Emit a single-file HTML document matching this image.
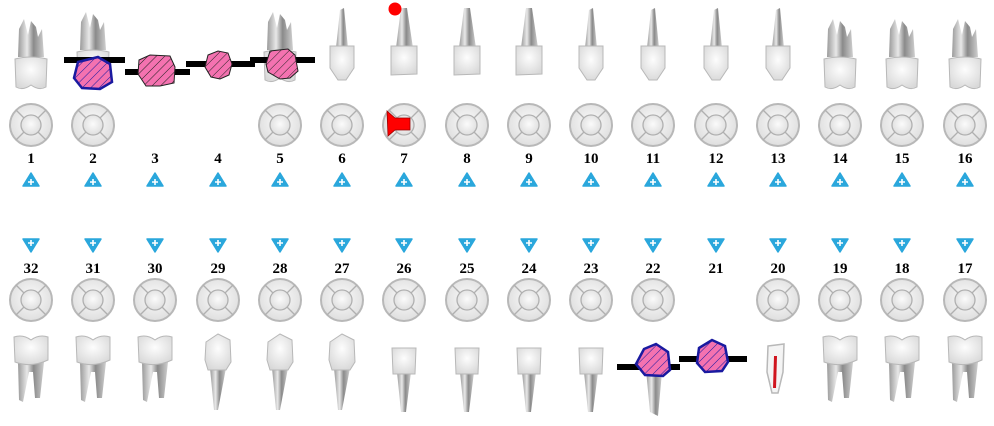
<!DOCTYPE html>
<html><head><meta charset="utf-8"><style>
html,body{margin:0;padding:0;background:#fff;width:994px;height:426px;overflow:hidden}
text{font-family:"Liberation Serif",serif;font-weight:bold;font-size:15px;text-anchor:middle}
</style></head><body>
<svg width="994" height="426" viewBox="0 0 994 426" xmlns="http://www.w3.org/2000/svg">
<defs>
<radialGradient id="cg" cx="50%" cy="45%" r="60%"><stop offset="0" stop-color="#fbfbfb"/><stop offset="1" stop-color="#dcdcdc"/></radialGradient>
<linearGradient id="rg" x1="0" x2="1"><stop offset="0" stop-color="#9a9a9a"/><stop offset=".35" stop-color="#e8e8e8"/><stop offset=".6" stop-color="#8a8a8a"/><stop offset="1" stop-color="#cfcfcf"/></linearGradient>
<radialGradient id="kg" cx="50%" cy="40%" r="65%"><stop offset="0" stop-color="#fdfdfd"/><stop offset="1" stop-color="#d8d8d8"/></radialGradient>
<pattern id="hatch" width="6" height="6" patternUnits="userSpaceOnUse" patternTransform="rotate(45)"><rect width="6" height="6" fill="#f472b0"/><line x1="0" y1="0" x2="0" y2="6" stroke="#222" stroke-width="1"/></pattern>
<pattern id="hatchb" width="6" height="6" patternUnits="userSpaceOnUse" patternTransform="rotate(45)"><rect width="6" height="6" fill="#f472b0"/><line x1="0" y1="0" x2="0" y2="6" stroke="#1a1aa0" stroke-width="1"/></pattern>
<g id="circ"><circle r="21" fill="url(#cg)" stroke="#b8b8b8" stroke-width="2"/><circle r="10" fill="url(#cg)" stroke="#b0b0b0" stroke-width="1.3"/><path d="M7 7L15 15M-7 7L-15 15M7 -7L15 -15M-7 -7L-15 -15" stroke="#b0b0b0" stroke-width="1.3"/></g>
<g id="um"><path d="M-13 57 L-12 29 L-7 19 L-3 35 L0 21 L5 27 L7 37 L11 29 L13 57Z" fill="url(#rg)"/><path d="M-16 59 Q0 55 16 59 L15 87 Q8 91 0 85 Q-8 91 -15 87Z" fill="url(#kg)" stroke="#b8b8b8"/></g>
<g id="ui"><path d="M-6 48 L-2 10 L2 8 L6 48Z" fill="url(#rg)"/><path d="M-12 46 L12 46 L12 68 L4 80 L-4 80 L-12 68Z" fill="url(#kg)" stroke="#b8b8b8"/></g>
<g id="uc"><path d="M-8 48 L-3 8 L3 8 L9 48Z" fill="url(#rg)"/><path d="M-13 46 L13 46 L13 74 L-13 75Z" fill="url(#kg)" stroke="#b8b8b8"/></g>
<g id="lm"><path d="M-13 362 L-12 400 L-8 402 L-2 372 L2 372 L4 398 L9 398 L13 362Z" fill="url(#rg)"/><path d="M-17 337 Q-8 334 0 340 Q8 334 17 337 L17 360 Q0 368 -16 362Z" fill="url(#kg)" stroke="#b8b8b8"/></g>
<g id="lp"><path d="M-8 368 L-4 410 L0 410 L8 368Z" fill="url(#rg)"/><path d="M-12 342 L0 334 L12 340 L13 362 L8 370 L-10 370 L-13 360Z" fill="url(#kg)" stroke="#b8b8b8"/></g>
<g id="li"><path d="M-7 372 L-3 412 L2 412 L7 372Z" fill="url(#rg)"/><path d="M-12 348 L12 348 L11 374 L-11 374Z" fill="url(#kg)" stroke="#b8b8b8"/></g>
<g id="up"><path d="M-8 6 L0 -7 L8 6Z" fill="#2aa7dc" stroke="#2aa7dc" stroke-linejoin="round" stroke-width="1.5"/><path d="M0 -1v6M-3 2h6" stroke="#fff" stroke-width="1.6"/></g>
<g id="dn"><path d="M-8 -6 L8 -6 L0 7Z" fill="#2aa7dc" stroke="#2aa7dc" stroke-linejoin="round" stroke-width="1.5"/><path d="M0 -5v6M-3 -2h6" stroke="#fff" stroke-width="1.6"/></g>
</defs>
<use href="#um" x="31"/><use href="#um" x="93" y="-7"/><use href="#um" x="280" y="-7"/>
<use href="#ui" x="342"/><use href="#uc" x="404"/><use href="#uc" x="467"/><use href="#uc" x="529"/><use href="#ui" x="591"/><use href="#ui" x="653"/><use href="#ui" x="716"/><use href="#ui" x="778"/>
<use href="#um" x="840"/><use href="#um" x="902"/><use href="#um" x="965"/>
<circle cx="395" cy="9" r="6.5" fill="#f00"/>
<rect x="64" y="57" width="61" height="6" fill="#000"/>
<path d="M78 62 L98 57 L110 64 L112 82 L100 89 L82 88 L74 78Z" fill="url(#hatchb)" stroke="#1a1aa0" stroke-width="2.5"/>
<rect x="125" y="69" width="14" height="6" fill="#000"/><rect x="174" y="69" width="16" height="6" fill="#000"/>
<path d="M139 60 L150 55 L170 56 L175 67 L174 83 L160 86 L146 86 L138 74Z" fill="url(#hatch)" stroke="#222"/>
<rect x="186" y="61" width="20" height="6" fill="#000"/><rect x="231" y="61" width="24" height="6" fill="#000"/>
<path d="M208 55 L218 51 L228 53 L232 64 L229 75 L220 79 L211 77 L205 67Z" fill="url(#hatch)" stroke="#222"/>
<rect x="250" y="57" width="20" height="6" fill="#000"/><rect x="296" y="57" width="19" height="6" fill="#000"/>
<path d="M270 51 L288 49 L295 55 L298 71 L290 78 L280 79 L268 72 L266 64Z" fill="url(#hatch)" stroke="#222"/>
<use href="#circ" x="31" y="125"/><use href="#circ" x="93" y="125"/><use href="#circ" x="280" y="125"/><use href="#circ" x="342" y="125"/><use href="#circ" x="404" y="125"/><use href="#circ" x="467" y="125"/><use href="#circ" x="529" y="125"/><use href="#circ" x="591" y="125"/><use href="#circ" x="653" y="125"/><use href="#circ" x="716" y="125"/><use href="#circ" x="778" y="125"/><use href="#circ" x="840" y="125"/><use href="#circ" x="902" y="125"/><use href="#circ" x="965" y="125"/>
<path d="M387 111 L388 136 L395 130 L410 130 L410 118 L395 118Z" fill="#f00" stroke="#900" stroke-width=".8"/>
<g>
<text x="31" y="163">1</text><text x="93" y="163">2</text><text x="155" y="163">3</text><text x="218" y="163">4</text><text x="280" y="163">5</text><text x="342" y="163">6</text><text x="404" y="163">7</text><text x="467" y="163">8</text><text x="529" y="163">9</text><text x="591" y="163">10</text><text x="653" y="163">11</text><text x="716" y="163">12</text><text x="778" y="163">13</text><text x="840" y="163">14</text><text x="902" y="163">15</text><text x="965" y="163">16</text>
</g>
<use href="#up" x="31" y="180"/><use href="#up" x="93" y="180"/><use href="#up" x="155" y="180"/><use href="#up" x="218" y="180"/><use href="#up" x="280" y="180"/><use href="#up" x="342" y="180"/><use href="#up" x="404" y="180"/><use href="#up" x="467" y="180"/><use href="#up" x="529" y="180"/><use href="#up" x="591" y="180"/><use href="#up" x="653" y="180"/><use href="#up" x="716" y="180"/><use href="#up" x="778" y="180"/><use href="#up" x="840" y="180"/><use href="#up" x="902" y="180"/><use href="#up" x="965" y="180"/>
<use href="#dn" x="31" y="245"/><use href="#dn" x="93" y="245"/><use href="#dn" x="155" y="245"/><use href="#dn" x="218" y="245"/><use href="#dn" x="280" y="245"/><use href="#dn" x="342" y="245"/><use href="#dn" x="404" y="245"/><use href="#dn" x="467" y="245"/><use href="#dn" x="529" y="245"/><use href="#dn" x="591" y="245"/><use href="#dn" x="653" y="245"/><use href="#dn" x="716" y="245"/><use href="#dn" x="778" y="245"/><use href="#dn" x="840" y="245"/><use href="#dn" x="902" y="245"/><use href="#dn" x="965" y="245"/>
<g>
<text x="31" y="273">32</text><text x="93" y="273">31</text><text x="155" y="273">30</text><text x="218" y="273">29</text><text x="280" y="273">28</text><text x="342" y="273">27</text><text x="404" y="273">26</text><text x="467" y="273">25</text><text x="529" y="273">24</text><text x="591" y="273">23</text><text x="653" y="273">22</text><text x="716" y="273">21</text><text x="778" y="273">20</text><text x="840" y="273">19</text><text x="902" y="273">18</text><text x="965" y="273">17</text>
</g>
<use href="#circ" x="31" y="300"/><use href="#circ" x="93" y="300"/><use href="#circ" x="155" y="300"/><use href="#circ" x="218" y="300"/><use href="#circ" x="280" y="300"/><use href="#circ" x="342" y="300"/><use href="#circ" x="404" y="300"/><use href="#circ" x="467" y="300"/><use href="#circ" x="529" y="300"/><use href="#circ" x="591" y="300"/><use href="#circ" x="653" y="300"/><use href="#circ" x="778" y="300"/><use href="#circ" x="840" y="300"/><use href="#circ" x="902" y="300"/><use href="#circ" x="965" y="300"/>
<use href="#lm" x="31"/><use href="#lm" x="93"/><use href="#lm" x="155"/>
<use href="#lp" x="218"/><use href="#lp" x="280"/><use href="#lp" x="342"/>
<use href="#li" x="404"/><use href="#li" x="467"/><use href="#li" x="529"/><use href="#li" x="591"/>
<path d="M646 370 L650 412 L658 416 L662 372Z" fill="url(#rg)"/>
<use href="#lm" x="840"/><use href="#lm" x="902"/><use href="#lm" x="965"/>
<path d="M768 346 L784 344 L783 372 L778 393 L772 393 L767 372Z" fill="#f4f4f4" stroke="#b8b8b8" stroke-width="1.5"/>
<path d="M774 356 L777 356 L776 388 L773 388Z" fill="#d0141e"/>
<rect x="617" y="364" width="63" height="6" fill="#000"/>
<path d="M644 349 L656 344 L668 352 L670 370 L663 376 L645 375 L636 364Z" fill="url(#hatchb)" stroke="#1a1aa0" stroke-width="2.5"/>
<rect x="679" y="356" width="22" height="6" fill="#000"/><rect x="727" y="356" width="20" height="6" fill="#000"/>
<path d="M699 348 L712 340 L725 346 L728 362 L722 371 L705 372 L697 363Z" fill="url(#hatchb)" stroke="#1a1aa0" stroke-width="2.5"/>
</svg>
</body></html>
